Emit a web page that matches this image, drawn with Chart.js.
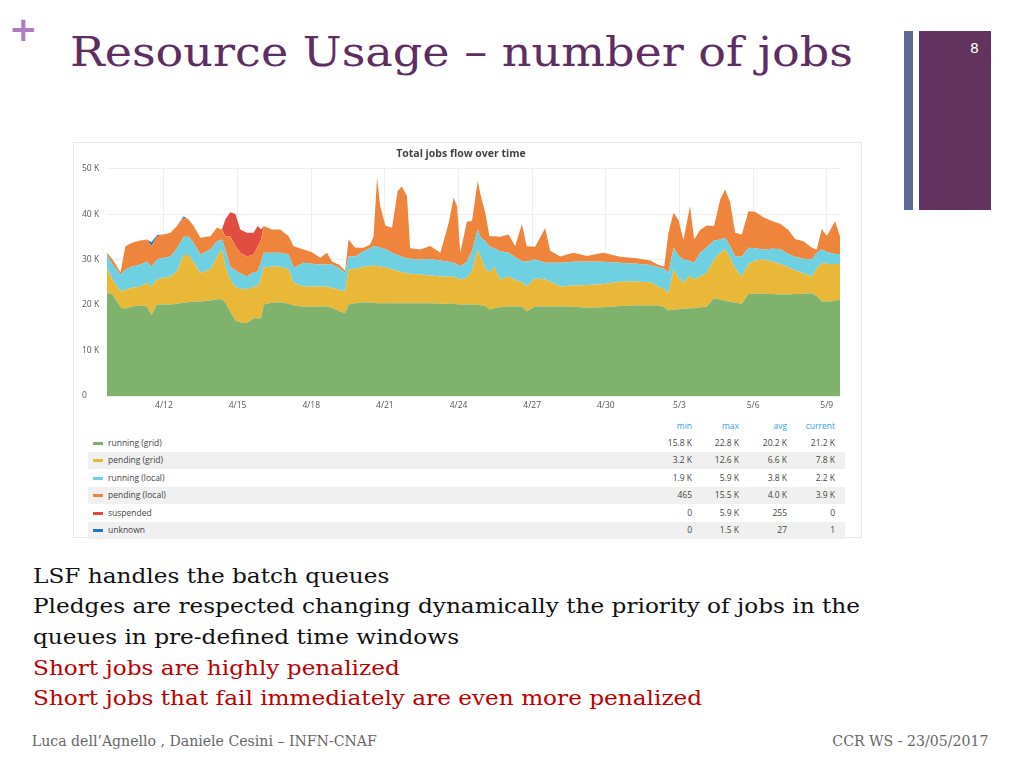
<!DOCTYPE html>
<html>
<head>
<meta charset="utf-8">
<script src="https://cdn.jsdelivr.net/npm/chart.js@4.4.0/dist/chart.umd.min.js"></script>
<style>
  body { margin: 0; width: 1024px; height: 768px; background: #fff; position: relative; overflow: hidden; }
  .abs { position: absolute; white-space: nowrap; }
  .slab { font-family: "DejaVu Serif", serif; transform-origin: 0 0; }
  #panel { left: 73px; top: 142px; width: 787px; height: 394px; background: #fff; border: 1px solid #e6e6e6; }
  #chartBox { left: 73px; top: 142px; width: 788px; height: 272px; }
  .lg { font-family: "Open Sans", sans-serif; font-size: 8.5px; color: #444; }
  .hd { font-family: "Open Sans", sans-serif; font-size: 8.5px; color: #33a2e5; }
</style>
</head>
<body>
<div class="abs" style="left:9px;top:12px;font:bold 34px 'DejaVu Sans',sans-serif;color:#b07cc0;line-height:34px;">+</div>
<div id="title" class="abs slab" style="left:70px;top:32px;font-size:41px;line-height:41px;color:#5e2e62;">Resource Usage – number of jobs</div>
<div class="abs" style="left:904px;top:31px;width:9px;height:179px;background:#5f6a94;"></div>
<div class="abs" style="left:919px;top:31px;width:72px;height:179px;background:#62335f;"></div>
<div class="abs" style="left:970px;top:40px;font:14px 'DejaVu Sans',sans-serif;color:#fff;">8</div>

<div id="panel" class="abs"></div>
<div id="chartBox" class="abs"><canvas id="jobsChart"></canvas></div>
<div id="legend"></div>

<div id="body"></div>
<div class="abs" style="left:33px;top:733px;font:14px 'DejaVu Serif',serif;color:#666;" id="foot1">Luca dell’Agnello , Daniele Cesini – INFN-CNAF</div>
<div class="abs" style="left:833px;top:733px;font:14px 'DejaVu Serif',serif;color:#666;" id="foot2">CCR WS - 23/05/2017</div>

<script>
// time axis in days (4/1 = day 1, 5/1 = day 31)
const days = [9.68, 9.89, 10.23, 10.43, 10.70, 11.04, 11.31, 11.49, 11.72, 11.99,
  12.26, 12.53, 12.80, 13.01, 13.21, 13.48, 13.89, 14.16, 14.36, 14.50,
  14.70, 14.91, 15.11, 15.38, 15.65, 15.82, 15.96, 16.06, 16.40, 16.74,
  17.08, 17.28, 17.69, 18.03, 18.37, 18.64, 18.84, 19.12, 19.38, 19.52,
  19.79, 20.13, 20.40, 20.54, 20.68, 20.81, 21.02, 21.29, 21.52, 21.69,
  21.90, 22.03, 22.44, 22.85, 23.26, 23.60, 23.80, 23.94, 24.07, 24.34,
  24.55, 24.78, 24.91, 25.09, 25.26, 25.45, 25.70, 26.04, 26.31, 26.58,
  26.78, 27.12, 27.53, 27.73, 28.14, 28.68, 29.23, 29.91, 30.58, 31.26,
  31.81, 32.15, 32.38, 32.55, 32.76, 32.96, 33.16, 33.43, 33.60, 33.84,
  34.11, 34.41, 34.66, 34.86, 35.06, 35.27, 35.54, 35.81, 36.08, 36.42,
  36.76, 37.10, 37.44, 37.71, 38.05, 38.39, 38.59, 38.80, 39.00, 39.34, 39.54];

// values in thousands of jobs
const runningGrid = [22.6, 22.5, 19.5, 19.2, 19.7, 19.9, 19.7, 17.8, 20.1, 20.1,
  20.1, 20.3, 20.5, 20.6, 20.7, 20.8, 21.0, 21.3, 21.3, 20.5,
  18.5, 16.6, 16.2, 16.0, 17.1, 17.1, 17.1, 20.1, 20.5, 20.6,
  20.3, 19.9, 19.6, 19.6, 19.7, 19.7, 19.4, 18.7, 18.2, 20.1,
  20.4, 20.6, 20.5, 20.5, 20.4, 20.4, 20.4, 20.4, 20.4, 20.4,
  20.4, 20.4, 20.4, 20.4, 20.3, 20.3, 20.3, 20.2, 20.1, 20.1,
  20.1, 20.0, 19.9, 19.8, 19.0, 19.3, 19.5, 19.7, 19.7, 19.7,
  18.6, 19.7, 19.7, 19.7, 19.7, 19.6, 19.4, 19.5, 19.8, 19.9,
  19.9, 19.9, 19.5, 18.8, 19.0, 19.1, 19.2, 19.3, 19.3, 19.5,
  19.6, 21.5, 21.2, 20.9, 20.7, 20.5, 20.3, 22.4, 22.5, 22.5,
  22.4, 22.3, 22.3, 22.4, 22.5, 22.6, 22.0, 20.8, 20.8, 20.9, 21.2];
const pendingGrid = [5.6, 3.2, 3.5, 4.2, 4.1, 4.2, 5.2, 6.2, 5.5, 5.9,
  6.2, 7.1, 10.5, 10.4, 8.6, 6.3, 6.8, 9.4, 10.9, 8.0,
  7.1, 7.4, 7.4, 7.5, 6.9, 7.0, 8.9, 8.1, 8.0, 7.8,
  7.5, 5.0, 4.5, 4.5, 4.4, 4.3, 4.4, 4.7, 4.8, 7.7,
  7.6, 7.8, 8.1, 8.2, 8.2, 8.1, 7.9, 7.4, 7.1, 6.8,
  6.6, 6.5, 6.3, 6.1, 6.0, 5.9, 5.9, 5.8, 5.5, 5.9,
  7.4, 12.2, 10.6, 8.2, 8.1, 9.2, 6.1, 6.6, 5.8, 5.3,
  5.5, 6.2, 5.9, 5.5, 4.4, 4.7, 5.0, 5.1, 5.3, 5.3,
  5.1, 4.1, 4.0, 3.8, 8.8, 6.9, 5.7, 7.2, 6.3, 6.8,
  7.5, 8.5, 10.3, 11.3, 9.8, 7.5, 6.0, 6.6, 7.3, 7.5,
  7.2, 6.7, 6.0, 5.2, 4.5, 3.7, 6.0, 8.5, 8.2, 8.1, 7.8];
const runningLocal = [2.9, 3.3, 3.7, 4.4, 4.7, 4.8, 4.7, 4.5, 4.4, 4.4,
  4.4, 5.1, 4.0, 4.0, 4.4, 4.0, 4.4, 3.3, 2.2, 3.7,
  2.9, 3.6, 3.4, 2.8, 3.2, 3.3, 3.5, 3.3, 3.0, 3.1,
  3.3, 3.3, 5.2, 5.0, 4.8, 4.9, 5.1, 4.8, 4.1, 2.9,
  2.7, 3.4, 3.9, 4.2, 4.2, 4.1, 4.0, 3.7, 3.5, 3.4,
  3.3, 3.3, 3.3, 3.6, 3.5, 3.3, 3.1, 3.0, 2.9, 3.5,
  4.5, 4.4, 4.3, 6.0, 5.8, 4.0, 6.2, 5.2, 5.0, 4.7,
  5.5, 4.1, 3.7, 4.1, 5.2, 5.2, 5.2, 4.9, 4.2, 3.9,
  3.8, 4.3, 4.5, 4.5, 4.8, 4.9, 5.1, 3.2, 3.7, 5.2,
  5.6, 4.2, 2.9, 2.6, 2.5, 2.7, 4.4, 3.6, 2.7, 2.2,
  2.8, 3.3, 2.9, 3.0, 3.2, 3.7, 3.5, 2.9, 2.7, 2.2, 2.2];
const pendingLocal = [0.4, 1.1, 0.5, 5.1, 5.2, 5.3, 4.8, 4.5, 5.1, 5.1,
  5.2, 4.9, 4.2, 3.8, 3.7, 3.7, 2.9, 3.0, 2.2, 2.9,
  6.6, 5.4, 4.5, 4.4, 3.9, 5.5, 4.9, 5.9, 5.1, 5.1,
  4.0, 4.7, 2.9, 2.5, 1.5, 2.6, 0.7, 0.7, 0.5, 3.7,
  1.9, 0.8, 0.8, 2.2, 15.2, 9.2, 5.2, 5.5, 14.0, 15.5,
  13.7, 2.3, 2.2, 2.9, 1.7, 8.6, 14.3, 12.8, 3.0, 8.8,
  6.5, 10.7, 9.2, 6.3, 2.2, 2.6, 3.2, 4.0, 2.4, 8.1,
  3.3, 2.8, 7.6, 2.7, 1.4, 2.0, 1.2, 2.0, 1.3, 1.2,
  1.0, 0.5, 0.5, 8.8, 7.7, 7.8, 4.3, 12.1, 5.1, 5.0,
  4.8, 3.2, 8.8, 10.6, 9.7, 5.2, 4.8, 8.0, 8.0, 7.1,
  6.1, 5.6, 5.3, 3.9, 3.8, 2.6, 0.7, 4.5, 3.5, 7.2, 3.9];
const suspended = [0, 0, 0, 0, 0, 0, 0, 0, 0, 0,
  0, 0, 0, 0, 0, 0, 0, 0, 0, 3.7,
  5.3, 7.0, 5.1, 5.2, 4.8, 4.5, 2.2, 0, 0, 0,
  0, 0, 0, 0, 0, 0, 0, 0, 0, 0,
  0, 0, 0, 0, 0, 0, 0, 0, 0, 0,
  0, 0, 0, 0, 0, 0, 0, 0, 0, 0,
  0, 0, 0, 0, 0, 0, 0, 0, 0, 0,
  0, 0, 0, 0, 0, 0, 0, 0, 0, 0,
  0, 0, 0, 0, 0, 0, 0, 0, 0, 0,
  0, 0, 0, 0, 0, 0, 0, 0, 0, 0,
  0, 0, 0, 0, 0, 0, 0, 0, 0, 0, 0];
const unknown = [0, 0, 0, 0, 0, 0, 0, 0.8, 0.3, 0,
  0, 0, 0.3, 0, 0, 0, 0, 0, 0, 0,
  0, 0, 0, 0, 0, 0, 0, 0, 0, 0,
  0, 0, 0, 0, 0, 0, 0, 0, 0, 0,
  0, 0, 0, 0, 0, 0, 0, 0, 0, 0,
  0, 0, 0, 0, 0, 0, 0, 0, 0, 0,
  0, 0, 0, 0, 0, 0, 0, 0, 0, 0,
  0, 0, 0, 0, 0, 0, 0, 0, 0, 0,
  0, 0, 0, 0, 0, 0, 0, 0, 0, 0,
  0, 0, 0, 0, 0, 0, 0, 0, 0, 0,
  0, 0, 0, 0, 0, 0, 0, 0, 0, 0, 0];

const seriesNames = ['running (grid)', 'pending (grid)', 'running (local)', 'pending (local)', 'suspended', 'unknown'];
const seriesColors = ['#7eb26d', '#eab839', '#6ed0e0', '#ef843c', '#e24d42', '#1f78c1'];
const seriesValues = [runningGrid, pendingGrid, runningLocal, pendingLocal, suspended, unknown];

// x tick positions and labels
const tickDays = [12, 15, 18, 21, 24, 27, 30, 33, 36, 39];
const tickLabels = ['4/12', '4/15', '4/18', '4/21', '4/24', '4/27', '4/30', '5/3', '5/6', '5/9'];

// legend table values
const statHeaders = ['min', 'max', 'avg', 'current'];
const statMin = ['15.8 K', '3.2 K', '1.9 K', '465', '0', '0'];
const statMax = ['22.8 K', '12.6 K', '5.9 K', '15.5 K', '5.9 K', '1.5 K'];
const statAvg = ['20.2 K', '6.6 K', '3.8 K', '4.0 K', '255', '27'];
const statCurrent = ['21.2 K', '7.8 K', '2.2 K', '3.9 K', '0', '1'];

const bodyLines = [
  'LSF handles the batch queues',
  'Pledges are respected changing dynamically the priority of jobs in the',
  'queues in pre-defined time windows',
  'Short jobs are highly penalized',
  'Short jobs that fail immediately are even more penalized'
];
const bodyColors = ['#111', '#111', '#111', '#c00000', '#c00000'];

// ---- slide text ----
function fitWidth(el, target) {
  const w = el.getBoundingClientRect().width;
  el.style.transform = 'scaleX(' + (target / w) + ')';
}
fitWidth(document.getElementById('title'), 783);

const body = document.getElementById('body');
bodyLines.forEach((t, i) => {
  const d = document.createElement('div');
  d.className = 'abs slab';
  d.style.left = '33px';
  d.style.top = (565.5 + i * 30.7) + 'px';
  d.style.fontSize = '21px';
  d.style.lineHeight = '21px';
  d.style.color = bodyColors[i];
  d.textContent = t;
  body.appendChild(d);
});
const line2 = body.children[1];
const k = 827 / line2.getBoundingClientRect().width;
for (const d of body.children) d.style.transform = 'scaleX(' + k + ')';
fitWidth(document.getElementById('foot1'), 345);
const f2 = document.getElementById('foot2');
fitWidth(f2, 156);

// ---- legend table ----
const legend = document.getElementById('legend');
const colRight = [692, 739, 787, 835];
statHeaders.forEach((h, j) => {
  const d = document.createElement('div');
  d.className = 'abs hd';
  d.style.right = (1024 - colRight[j]) + 'px';
  d.style.top = '420px';
  d.textContent = h;
  legend.appendChild(d);
});
const statCols = [statMin, statMax, statAvg, statCurrent];
seriesNames.forEach((name, i) => {
  const cy = 443 + i * 17.4;
  if (i % 2 === 1) {
    const bg = document.createElement('div');
    bg.className = 'abs';
    bg.style.cssText = 'left:88px;width:757px;height:17px;background:#f0f0f0;top:' + (cy - 8.5) + 'px;';
    legend.appendChild(bg);
  }
  const sw = document.createElement('div');
  sw.className = 'abs';
  sw.style.cssText = 'left:93px;width:10px;height:3px;top:' + (cy - 1) + 'px;background:' + seriesColors[i] + ';';
  legend.appendChild(sw);
  const lb = document.createElement('div');
  lb.className = 'abs lg';
  lb.style.left = '108px';
  lb.style.top = (cy - 6) + 'px';
  lb.textContent = name;
  legend.appendChild(lb);
  statCols.forEach((col, j) => {
    const v = document.createElement('div');
    v.className = 'abs lg';
    v.style.right = (1024 - colRight[j]) + 'px';
    v.style.top = (cy - 6) + 'px';
    v.textContent = col[i];
    legend.appendChild(v);
  });
});

// ---- chart ----
const ctx = document.getElementById('jobsChart').getContext('2d');
const jobsChart = new Chart(ctx, {
  type: 'line',
  data: {
    datasets: seriesValues.map((vals, i) => ({
      label: seriesNames[i],
      data: vals.map((v, n) => ({ x: days[n], y: v })),
      borderColor: seriesColors[i],
      backgroundColor: seriesColors[i],
      borderWidth: 0,
      pointRadius: 0,
      tension: 0,
      fill: i === 0 ? 'origin' : '-1',
    })),
  },
  options: {
    responsive: true,
    maintainAspectRatio: false,
    animation: false,
    layout: { padding: { left: 9, right: 21, top: 0, bottom: 0 } },
    plugins: {
      legend: { display: false },
      tooltip: { enabled: false },
      title: {
        display: true,
        text: 'Total jobs flow over time',
        color: '#444',
        font: { family: 'Open Sans', size: 10.5, weight: 'bold' },
        padding: { top: 6, bottom: 8 },
      },
    },
    scales: {
      x: {
        type: 'linear',
        min: days[0],
        max: days[days.length - 1],
        afterBuildTicks: scale => { scale.ticks = tickDays.map(v => ({ value: v })); },
        afterFit: scale => { scale.height = 18; },
        ticks: {
          callback: v => tickLabels[tickDays.indexOf(v)],
          color: '#555',
          font: { family: 'Open Sans', size: 8.5 },
          maxRotation: 0,
          padding: 4,
        },
        grid: { color: '#eeeeee', drawTicks: false },
        border: { display: false },
      },
      y: {
        stacked: true,
        min: 0,
        max: 50,
        afterFit: scale => { scale.width = 25; },
        ticks: {
          stepSize: 10,
          callback: v => v === 0 ? '0' : v + ' K',
          color: '#555',
          font: { family: 'Open Sans', size: 8.5 },
          crossAlign: 'far',
          padding: 0,
        },
        grid: { color: '#eeeeee', drawTicks: false },
        border: { display: false },
      },
    },
  },
});
</script>
</body>
</html>
